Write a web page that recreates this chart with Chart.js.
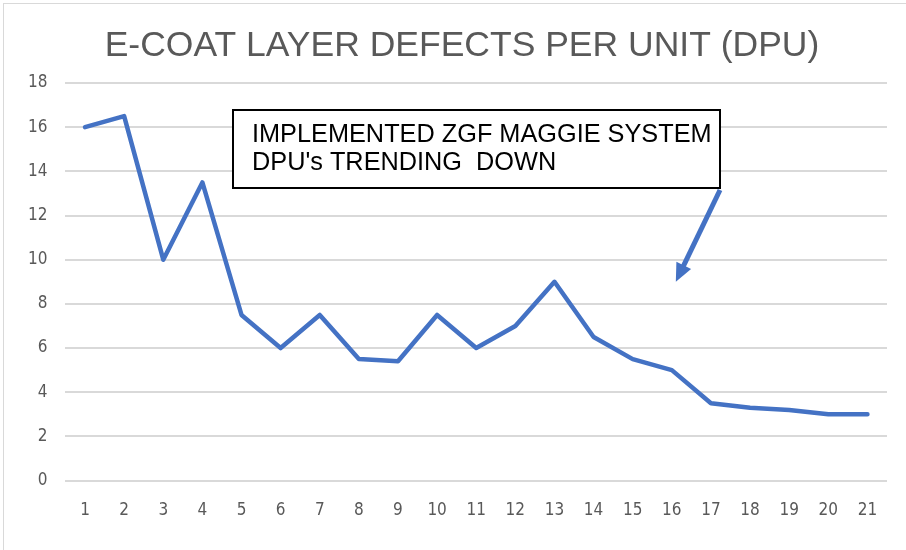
<!DOCTYPE html>
<html>
<head>
<meta charset="utf-8">
<script src="https://cdn.jsdelivr.net/npm/chart.js@4.4.0/dist/chart.umd.min.js"></script>
<style>
  html, body { margin:0; padding:0; background:#fff; }
  #wrap { position:relative; width:906px; height:550px; }
  #frame { position:absolute; left:3px; top:3px; width:920px; height:560px; border:1px solid #d9d9d9; box-sizing:border-box; }
  canvas { position:absolute; left:0; top:0; }
</style>
</head>
<body>
<div id="wrap">
  <div id="frame"></div>
  <canvas id="chart" width="906" height="550"></canvas>
</div>
<script>
// Data
const units = ["1","2","3","4","5","6","7","8","9","10","11","12","13","14","15","16","17","18","19","20","21"];
const dpu = [16, 16.5, 10, 13.5, 7.5, 6, 7.5, 5.5, 5.4, 7.5, 6, 7, 9, 6.5, 5.5, 5, 3.5, 3.3, 3.2, 3.0, 3.0];
const yTicks = [0, 2, 4, 6, 8, 10, 12, 14, 16, 18];
const titleText = "E-COAT LAYER DEFECTS PER UNIT (DPU)";
const noteLines = ["IMPLEMENTED ZGF MAGGIE SYSTEM", "DPU's TRENDING  DOWN"];

const blue = "#4472C4";
const tickFont = "'DejaVu Sans Condensed', 'Liberation Sans', sans-serif";

// title (centred a little right of the canvas middle, like the original), callout box + arrow
const notePlugin = {
  id: "note",
  afterDraw(c) {
    const ctx = c.ctx;
    const x = c.scales.x, y = c.scales.y;
    ctx.save();
    ctx.fillStyle = "#595959";
    ctx.font = "35.5px 'Liberation Sans', Arial, sans-serif";
    ctx.textAlign = "center";
    ctx.textBaseline = "alphabetic";
    ctx.fillText(titleText, 462, 56);
    ctx.textAlign = "left";

    // box
    const bx = 233, by = 110, bw = 487, bh = 78;
    ctx.fillStyle = "#fff";
    ctx.fillRect(bx, by, bw, bh);
    ctx.strokeStyle = "#000";
    ctx.lineWidth = 2;
    ctx.strokeRect(bx, by, bw, bh);
    ctx.fillStyle = "#000";
    ctx.font = "25.3px 'Liberation Sans', Arial, sans-serif";
    ctx.fillText(noteLines[0], bx + 19, by + 32);
    ctx.fillText(noteLines[1], bx + 19, by + 60);

    // arrow from box corner down toward the trend
    const x0 = bx + bw, y0 = by + bh + 2;
    const x1 = x.getPixelForValue(15) + 4;
    const y1 = y.getPixelForValue(9.0);
    const ang = Math.atan2(y1 - y0, x1 - x0);
    const head = 20;
    ctx.strokeStyle = blue;
    ctx.fillStyle = blue;
    ctx.lineWidth = 5;
    ctx.beginPath();
    ctx.moveTo(x0, y0);
    ctx.lineTo(x1 - Math.cos(ang) * head * 0.8, y1 - Math.sin(ang) * head * 0.8);
    ctx.stroke();
    ctx.beginPath();
    ctx.moveTo(x1, y1);
    ctx.lineTo(x1 - head * Math.cos(ang - 0.42), y1 - head * Math.sin(ang - 0.42));
    ctx.lineTo(x1 - head * Math.cos(ang + 0.42), y1 - head * Math.sin(ang + 0.42));
    ctx.closePath();
    ctx.fill();
    ctx.restore();
  }
};

new Chart(document.getElementById("chart"), {
  type: "line",
  data: {
    labels: units,
    datasets: [{
      data: dpu,
      borderColor: blue,
      borderWidth: 4.5,
      pointRadius: 0,
      tension: 0,
      borderJoinStyle: "round",
      borderCapStyle: "round"
    }]
  },
  options: {
    responsive: false,
    animation: false,
    layout: { padding: { left: 10, right: 19, top: 83, bottom: 9 } },
    plugins: {
      legend: { display: false },
      tooltip: { enabled: false },
      title: { display: false }
    },
    scales: {
      x: {
        offset: true,
        grid: { display: false, drawTicks: false },
        border: { display: false },
        ticks: { color: "#595959", font: { family: tickFont, size: 17 }, padding: 20, maxRotation: 0 }
      },
      y: {
        min: 0,
        max: 18,
        afterBuildTicks(s) { s.ticks = yTicks.map(v => ({ value: v })); },
        grid: { color: "#d9d9d9", lineWidth: 2, drawTicks: false },
        border: { display: false },
        ticks: { color: "#595959", font: { family: tickFont, size: 17 }, padding: 18 }
      }
    }
  },
  plugins: [notePlugin]
});
</script>
</body>
</html>
